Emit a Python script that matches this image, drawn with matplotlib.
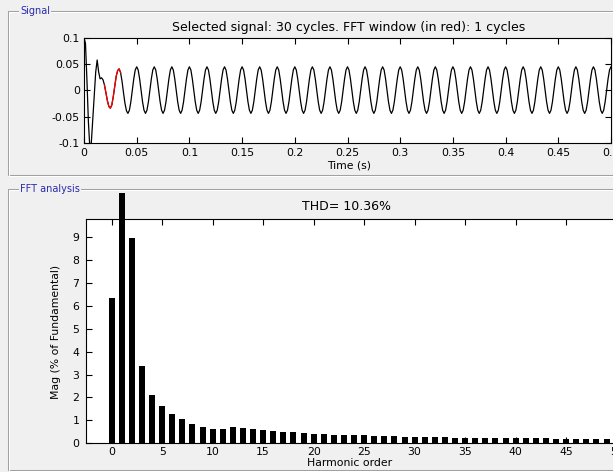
import numpy as np
import matplotlib.pyplot as plt
from matplotlib.lines import Line2D
from matplotlib.transforms import Bbox, TransformedBbox

plt.rcParams['font.family'] = ['DejaVu Sans']
plt.rcParams['axes.unicode_minus'] = False

W, H = 613, 472          # figure size in pixels
BG = '#f0f0f0'

# ---------------- data ----------------
FS = 720.0               # samples per second (12 per 60 Hz cycle)
# one row per cycle, 12 samples each
signal_rows = [
    [0.100, 0.090, 0.020, -0.060, -0.110, -0.100, -0.055, -0.010, 0.035, 0.058, 0.035, 0.022],
    [0.024, 0.020, 0.010, -0.005, -0.020, -0.031, -0.034, -0.028, -0.012, 0.008, 0.027, 0.038],
    [0.041, 0.034, 0.017, -0.005, -0.025, -0.039, -0.044, -0.038, -0.022, 0.000, 0.022, 0.039],
    [0.045, 0.039, 0.022, 0.000, -0.022, -0.038, -0.044, -0.038, -0.022, 0.000, 0.022, 0.039],
    [0.045, 0.039, 0.022, 0.000, -0.022, -0.038, -0.044, -0.038, -0.022, 0.000, 0.022, 0.039],
    [0.045, 0.039, 0.022, 0.000, -0.022, -0.038, -0.044, -0.038, -0.022, 0.000, 0.022, 0.039],
    [0.045, 0.039, 0.022, 0.000, -0.022, -0.038, -0.044, -0.038, -0.022, 0.000, 0.022, 0.039],
    [0.045, 0.039, 0.022, 0.000, -0.022, -0.038, -0.044, -0.038, -0.022, 0.000, 0.022, 0.039],
    [0.045, 0.039, 0.022, 0.000, -0.022, -0.038, -0.044, -0.038, -0.022, 0.000, 0.022, 0.039],
    [0.045, 0.039, 0.022, 0.000, -0.022, -0.038, -0.044, -0.038, -0.022, 0.000, 0.022, 0.039],
    [0.045, 0.039, 0.022, 0.000, -0.022, -0.038, -0.044, -0.038, -0.022, 0.000, 0.022, 0.039],
    [0.045, 0.039, 0.022, 0.000, -0.022, -0.038, -0.044, -0.038, -0.022, 0.000, 0.022, 0.039],
    [0.045, 0.039, 0.022, 0.000, -0.022, -0.038, -0.044, -0.038, -0.022, 0.000, 0.022, 0.039],
    [0.045, 0.039, 0.022, 0.000, -0.022, -0.038, -0.044, -0.038, -0.022, 0.000, 0.022, 0.039],
    [0.045, 0.039, 0.022, 0.000, -0.022, -0.038, -0.044, -0.038, -0.022, 0.000, 0.022, 0.039],
    [0.045, 0.039, 0.022, 0.000, -0.022, -0.038, -0.044, -0.038, -0.022, 0.000, 0.022, 0.039],
    [0.045, 0.039, 0.022, 0.000, -0.022, -0.038, -0.044, -0.038, -0.022, 0.000, 0.022, 0.039],
    [0.045, 0.039, 0.022, 0.000, -0.022, -0.038, -0.044, -0.038, -0.022, 0.000, 0.022, 0.039],
    [0.045, 0.039, 0.022, 0.000, -0.022, -0.038, -0.044, -0.038, -0.022, 0.000, 0.022, 0.039],
    [0.045, 0.039, 0.022, 0.000, -0.022, -0.038, -0.044, -0.038, -0.022, 0.000, 0.022, 0.039],
    [0.045, 0.039, 0.022, 0.000, -0.022, -0.038, -0.044, -0.038, -0.022, 0.000, 0.022, 0.039],
    [0.045, 0.039, 0.022, 0.000, -0.022, -0.038, -0.044, -0.038, -0.022, 0.000, 0.022, 0.039],
    [0.045, 0.039, 0.022, 0.000, -0.022, -0.038, -0.044, -0.038, -0.022, 0.000, 0.022, 0.039],
    [0.045, 0.039, 0.022, 0.000, -0.022, -0.038, -0.044, -0.038, -0.022, 0.000, 0.022, 0.039],
    [0.045, 0.039, 0.022, 0.000, -0.022, -0.038, -0.044, -0.038, -0.022, 0.000, 0.022, 0.039],
    [0.045, 0.039, 0.022, 0.000, -0.022, -0.038, -0.044, -0.038, -0.022, 0.000, 0.022, 0.039],
    [0.045, 0.039, 0.022, 0.000, -0.022, -0.038, -0.044, -0.038, -0.022, 0.000, 0.022, 0.039],
    [0.045, 0.039, 0.022, 0.000, -0.022, -0.038, -0.044, -0.038, -0.022, 0.000, 0.022, 0.039],
    [0.045, 0.039, 0.022, 0.000, -0.022, -0.038, -0.044, -0.038, -0.022, 0.000, 0.022, 0.039],
    [0.045, 0.039, 0.022, 0.000, -0.022, -0.038, -0.044, -0.038, -0.022, 0.000, 0.022, 0.039],
]
signal_last = 0.045
FFT_START = 0.0194       # s, start of the red window
FFT_LEN = 1 / 60.0       # 1 cycle

time_ticks = [0, 0.05, 0.1, 0.15, 0.2, 0.25, 0.3, 0.35, 0.4, 0.45, 0.5]
sig_yticks = [-0.1, -0.05, 0, 0.05, 0.1]

harmonics = list(range(51))
mag = [6.33, 100.0, 8.94, 3.36, 2.10, 1.62, 1.27, 1.08, 0.83, 0.73,
       0.64, 0.64, 0.70, 0.67, 0.63, 0.57, 0.54, 0.48, 0.48, 0.45,
       0.41, 0.41, 0.38, 0.38, 0.35, 0.35, 0.31, 0.31, 0.30, 0.29,
       0.28, 0.27, 0.27, 0.26, 0.25, 0.25, 0.24, 0.24, 0.23, 0.22,
       0.22, 0.21, 0.21, 0.21, 0.20, 0.20, 0.18, 0.18, 0.18, 0.17,
       0.17]
harm_ticks = [0, 5, 10, 15, 20, 25, 30, 35, 40, 45, 50]
mag_ticks = [0, 1, 2, 3, 4, 5, 6, 7, 8, 9]
THD = 10.36

signal = np.append(np.array(signal_rows).ravel(), signal_last)
t = np.arange(len(signal)) / FS
win = (t >= FFT_START - 1e-6) & (t <= FFT_START + FFT_LEN + 1e-6)


def fx(px):
    return px / W


def fy(py):
    return 1 - py / H


fig = plt.figure(figsize=(W / 100, H / 100), dpi=100, facecolor=BG)


# etched group-box frames
def group_box(x0, y0, y1, label, lx):
    for off, col in [(0, '#a0a0a0'), (1, 'white')]:
        xs = [fx(660), fx(x0 + off), fx(x0 + off), fx(660)]
        ys = [fy(y0 + off), fy(y0 + off), fy(y1 + off), fy(y1 + off)]
        fig.add_artist(Line2D(xs, ys, color=col, lw=0.75))
    fig.text(fx(lx), fy(y0), label, color='#2a2ab0', fontsize=7,
             ha='left', va='center',
             bbox=dict(facecolor=BG, edgecolor='none', pad=1))


group_box(7.5, 11, 175, 'Signal', 20)
group_box(7.5, 188.5, 470, 'FFT analysis', 20)

TICK_FS = 7.8

# ---------------- signal axes ----------------
ax1 = fig.add_axes([fx(84), fy(142.7), 527 / W, 104.7 / H])
ax1.plot(t, signal, color='black', lw=0.9)
ax1.plot(t[win], signal[win], color='red', lw=0.9)
ax1.set_xlim(0, 0.5)
ax1.set_ylim(-0.1, 0.1)
ax1.set_xticks(time_ticks)
ax1.set_xticklabels([f'{v:g}' for v in time_ticks])
ax1.set_yticks(sig_yticks)
ax1.set_yticklabels([f'{v:g}' for v in sig_yticks])
ax1.tick_params(direction='in', top=True, right=True, length=4, width=0.8,
                labelsize=TICK_FS)
ax1.tick_params(axis='x', pad=4)
ax1.tick_params(axis='y', pad=3)
for s in ax1.spines.values():
    s.set_linewidth(0.8)

fig.text(fx(349), fy(27), 'Selected signal: 30 cycles. FFT window (in red): 1 cycles',
         ha='center', va='center', fontsize=9)
fig.text(fx(349), fy(165), 'Time (s)', ha='center', va='center', fontsize=TICK_FS)

# ---------------- FFT axes ----------------
ax2 = fig.add_axes([fx(86.4), fy(443.3), (621.7 - 86.4) / W, (443.3 - 219.3) / H])
bars = ax2.bar(harmonics, mag, width=0.6, color='black')
clip = TransformedBbox(Bbox.from_extents(fx(86.4), fy(446), fx(640), fy(193)),
                       fig.transFigure)
for b in bars:
    b.set_clip_path(None)
    b.set_clip_box(clip)
ax2.set_xlim(-2.5, 50.5)
ax2.set_ylim(0, 9.77)
ax2.set_xticks(harm_ticks)
ax2.set_yticks(mag_ticks)
ax2.tick_params(direction='in', top=True, right=True, length=4, width=0.8,
                labelsize=TICK_FS)
ax2.tick_params(axis='x', pad=2.5)
ax2.tick_params(axis='y', pad=5)
for s in ax2.spines.values():
    s.set_linewidth(0.8)

fig.text(fx(347), fy(207), f'THD= {THD:.2f}%', ha='center', va='center', fontsize=9)
fig.text(fx(350), fy(463.5), 'Harmonic order', ha='center', va='center', fontsize=TICK_FS)
fig.text(fx(56), fy(332), 'Mag (% of Fundamental)', ha='center', va='center',
         rotation=90, fontsize=TICK_FS)

fig.savefig('out.png', dpi=100, facecolor=BG)
